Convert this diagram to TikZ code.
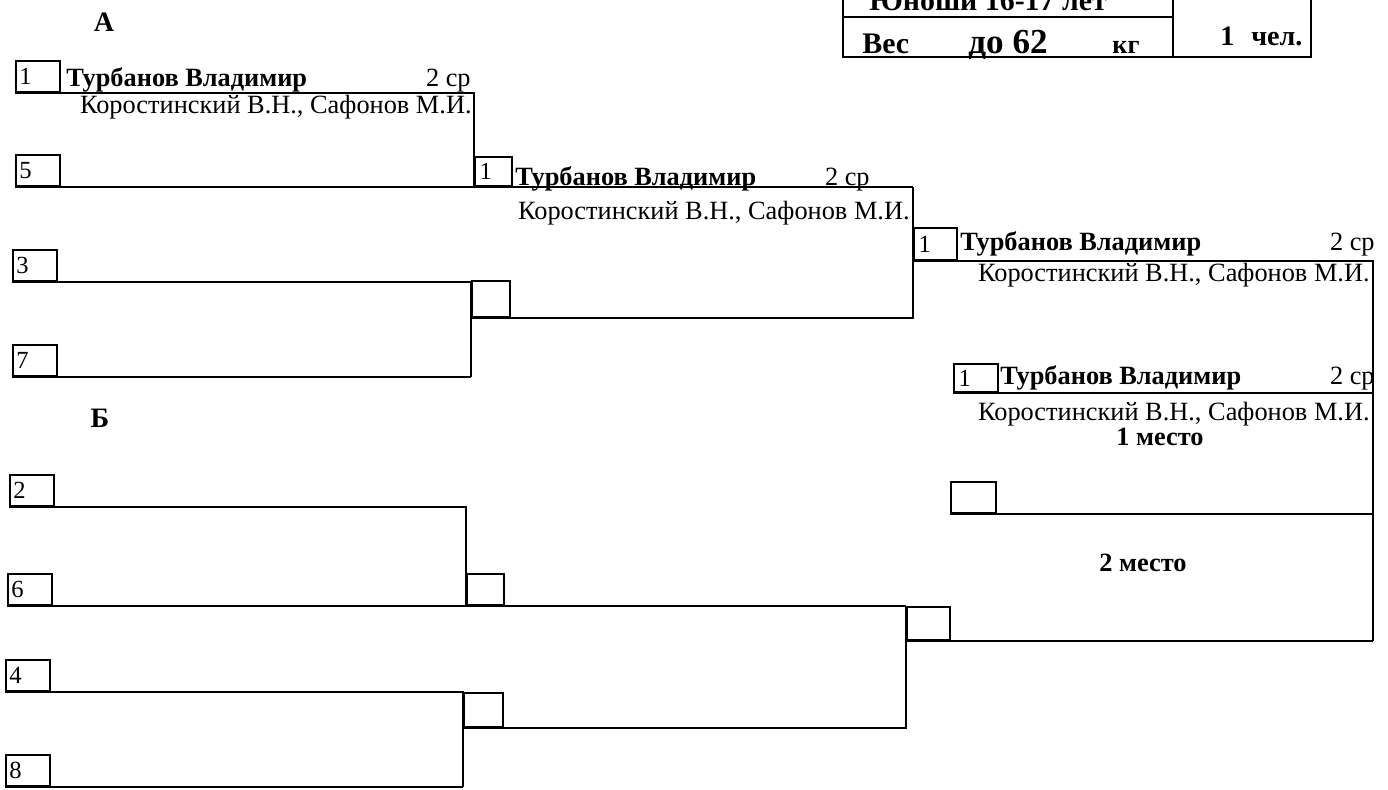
\documentclass[tikz,border=0pt]{standalone}
\usepackage{fontspec}
\setmainfont{Liberation Serif}
\usetikzlibrary{positioning}
\tikzset{
  bline/.style={line width=0.9pt},
  seedbox/.style={draw, line width=0.9pt, anchor=south west, minimum width=0.88cm,
    minimum height=0.62cm, text width=0.88cm-4pt, inner xsep=2pt, inner ysep=0pt,
    align=left, font=\fontsize{14}{14}\selectfont},
  winbox/.style={draw, line width=0.9pt, anchor=south west, inner sep=0pt},
  wnum/.style={label={[anchor=west, inner sep=3pt, font=\fontsize{14}{14}\selectfont]west:#1}},
  pname/.style={anchor=base west, inner sep=0pt, font=\bfseries\fontsize{15}{15}\selectfont},
  prank/.style={anchor=base east, inner sep=0pt, font=\fontsize{15}{15}\selectfont},
  pcoach/.style={anchor=base east, inner sep=0pt, font=\fontsize{15}{15}\selectfont},
  grp/.style={inner sep=0pt, font=\bfseries\fontsize{16}{16}\selectfont},
  place/.style={inner sep=0pt, font=\bfseries\fontsize{15}{15}\selectfont},
}
\begin{document}
\begin{tikzpicture}[x=0.02cm,y=-0.02cm]
  %%%%% START %%%%%
  \useasboundingbox (0,0) rectangle (1388,789);
  \clip (0,0) rectangle (1388,789);

  % table in the corner
  \draw[bline] (843,-5) -- (843,57) -- (1311,57) -- (1311,-5);
  \draw[bline] (1173,-5) -- (1173,57);
  \draw[bline] (843,17) -- (1173,17);
  \node[anchor=base, inner sep=0pt, font=\bfseries\fontsize{17}{17}\selectfont] (cat) at (988,10) {Юноши 16-17 лет};
  \node[anchor=base west, inner sep=0pt, font=\bfseries\fontsize{17}{17}\selectfont] (wt) at (862,53) {Вес};
  \node[anchor=base west, inner sep=0pt, font=\bfseries\fontsize{20}{20}\selectfont] (wv) at (968,53) {до 62};
  \node[anchor=base west, inner sep=0pt, font=\bfseries\fontsize{15}{15}\selectfont] (wu) at (1112,53) {кг};
  \node[anchor=base west, inner sep=0pt, font=\bfseries\fontsize{16}{16}\selectfont] (cnt) at (1220,45) {1\hspace{0.6em}чел.};

  % group labels
  \node[grp] (ga) at (104,22) {А};
  \node[grp] (gb) at (100,418) {Б};

  % first round, group A
  \node[seedbox] (s1) at (15,93) {1};
  \node[seedbox] (s5) at (15,187) {5};
  \node[seedbox] (s3) at (12,282) {3};
  \node[seedbox] (s7) at (12,377) {7};
  \draw[bline] (s1.south west) -- (474,93) -- (474,187);
  \draw[bline] (s5.south west) -- (913,187);
  \draw[bline] (s3.south west) -- (471,282) -- (471,377);
  \draw[bline] (s7.south west) -- (471,377);
  \node[pname] (n1) at (66,86) {Турбанов Владимир};
  \node[prank] (r1) at (471,86) {2 ср};
  \node[pcoach] (c1) at (472,113) {Коростинский В.Н., Сафонов М.И.};

  % first round, group B
  \node[seedbox] (s2) at (9,507) {2};
  \node[seedbox] (s6) at (7,606) {6};
  \node[seedbox] (s4) at (5,692) {4};
  \node[seedbox] (s8) at (5,787) {8};
  \draw[bline] (s2.south west) -- (466,507) -- (466,606);
  \draw[bline] (s6.south west) -- (906,606);
  \draw[bline] (s4.south west) -- (463,692) -- (463,787);
  \draw[bline] (s8.south west) -- (463,787);

  % second round
  \node[winbox, wnum=1, minimum width=0.74cm, minimum height=0.58cm] (a1) at (474,187) {};
  \node[winbox, minimum width=0.76cm, minimum height=0.72cm] (a2) at (471,318) {};
  \node[winbox, minimum width=0.74cm, minimum height=0.62cm] (b1) at (466,606) {};
  \node[winbox, minimum width=0.78cm, minimum height=0.68cm] (b2) at (463,728) {};
  \draw[bline] (a2.south west) -- (913,318) -- (913,187);
  \draw[bline] (b2.south west) -- (906,728) -- (906,606);
  \node[pname] (n2) at (515,185) {Турбанов Владимир};
  \node[prank] (r2) at (870,185) {2 ср};
  \node[pcoach] (c2) at (910,219) {Коростинский В.Н., Сафонов М.И.};

  % semi-final
  \node[winbox, wnum=1, minimum width=0.86cm, minimum height=0.64cm] (a3) at (913,261) {};
  \node[winbox, minimum width=0.86cm, minimum height=0.66cm] (b3) at (906,641) {};
  \draw[bline] (a3.south west) -- (1373,261) -- (1373,641);
  \draw[bline] (b3.south west) -- (1373,641);
  \node[pname] (n3) at (960,250) {Турбанов Владимир};
  \node[prank] (r3) at (1375,250) {2 ср};
  \node[pcoach] (c3) at (1370,281) {Коростинский В.Н., Сафонов М.И.};

  % final
  \node[winbox, wnum=1, minimum width=0.88cm, minimum height=0.56cm] (fin) at (953,393) {};
  \node[winbox, minimum width=0.9cm, minimum height=0.62cm] (sec) at (950,514) {};
  \draw[bline] (fin.south west) -- (1373,393);
  \draw[bline] (sec.south west) -- (1373,514);
  \node[pname] (n4) at (1000,384) {Турбанов Владимир};
  \node[prank] (r4) at (1375,384) {2 ср};
  \node[pcoach] (c4) at (1370,420) {Коростинский В.Н., Сафонов М.И.};
  \node[place] (p1) at (1160,437) {1 место};
  \node[place] (p2) at (1143,563) {2 место};
  %%%%% END %%%%%
\end{tikzpicture}
\end{document}
